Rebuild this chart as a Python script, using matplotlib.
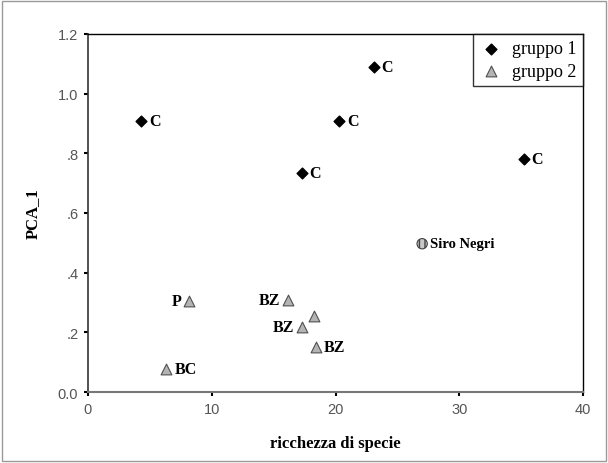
import matplotlib
matplotlib.use("Agg")
import matplotlib.pyplot as plt
from matplotlib.patches import Rectangle

# ---- data ----
g1_x = [4.3, 23.1, 20.3, 17.3, 35.2]
g1_y = [0.91, 1.09, 0.91, 0.735, 0.78]
g1_lab = ["C", "C", "C", "C", "C"]

g2_x = [8.2, 16.2, 18.3, 17.3, 18.4, 6.3]
g2_y = [0.305, 0.31, 0.255, 0.218, 0.152, 0.077]
g2_lab = ["P", "BZ", "", "BZ", "BZ", "BC"]
g2_side = ["left", "left", "", "left", "right", "right"]

siro_x = [27.0]
siro_y = [0.497]
siro_lab = ["Siro Negri"]

xticks = [0, 10, 20, 30, 40]
yticks = [0.0, 0.2, 0.4, 0.6, 0.8, 1.0, 1.2]
ytick_labels = ["0.0", ".2", ".4", ".6", ".8", "1.0", "1.2"]

serif = "Liberation Serif"
sans = "Liberation Sans"

fig = plt.figure(figsize=(6.08, 4.64), dpi=100)
ax = fig.add_axes([0.1447, 0.153, 0.8143, 0.7716])

# outer frame around the whole picture
fig.patches.append(Rectangle((0.004, 0.005), 0.992, 0.99, transform=fig.transFigure,
                             fill=False, edgecolor="#9a9a9a", linewidth=1.0))

h1 = ax.scatter(g1_x, g1_y, marker="D", s=30, color="black", zorder=3)
h2 = ax.scatter(g2_x, g2_y, marker="^", s=60, facecolor="#b4b4b4",
                edgecolor="#505050", linewidth=0.8, zorder=3)
ax.scatter(siro_x, siro_y, marker="o", s=55, facecolor="#c8c8c8",
           edgecolor="#404040", linewidth=0.8, hatch="|||", zorder=3)

for x, y, t in zip(g1_x, g1_y, g1_lab):
    ax.annotate(t, (x, y), xytext=(5.5, 0), textcoords="offset points",
                ha="left", va="center", fontfamily=serif, fontweight="bold", fontsize=11.5)

for x, y, t, s in zip(g2_x, g2_y, g2_lab, g2_side):
    if not t:
        continue
    if s == "left":
        ax.annotate(t, (x, y), xytext=(-6, 0), textcoords="offset points",
                    ha="right", va="center", fontfamily=serif, fontweight="bold", fontsize=11.5)
    else:
        ax.annotate(t, (x, y), xytext=(6, 0), textcoords="offset points",
                    ha="left", va="center", fontfamily=serif, fontweight="bold", fontsize=11.5)

for x, y, t in zip(siro_x, siro_y, siro_lab):
    ax.annotate(t, (x, y), xytext=(6, 0), textcoords="offset points",
                ha="left", va="center", fontfamily=serif, fontweight="bold", fontsize=10.5)

ax.set_xlim(0, 40)
ax.set_ylim(0, 1.2)
ax.set_xticks(xticks)
ax.set_yticks(yticks)
ax.set_yticklabels(ytick_labels)
for lab in ax.get_xticklabels() + ax.get_yticklabels():
    lab.set_fontfamily(sans)
    lab.set_fontsize(10.5)
    lab.set_color("#555555")
ax.tick_params(length=3, width=1.5, color="black", pad=4)

for sp in ["top", "right"]:
    ax.spines[sp].set_color("black")
    ax.spines[sp].set_linewidth(1.0)
ax.spines["left"].set_color("#333333")
ax.spines["bottom"].set_color("#777777")
ax.spines["left"].set_linewidth(1.2)
ax.spines["bottom"].set_linewidth(1.5)

ax.set_xlabel("ricchezza di specie", fontfamily=serif, fontweight="bold",
              fontsize=12, labelpad=14)
ax.set_ylabel("PCA_1", fontfamily=serif, fontweight="bold", fontsize=12, labelpad=12)

leg = ax.legend([h1, h2], ["gruppo 1", "gruppo 2"], loc="upper right",
                prop={"family": serif, "size": 13}, frameon=True, fancybox=False,
                borderaxespad=0.0, handletextpad=0.5, handlelength=1.3,
                borderpad=0.35, labelspacing=0.3)
leg.get_frame().set_edgecolor("black")
leg.get_frame().set_linewidth(1.0)

fig.savefig("out.png", dpi=100)
